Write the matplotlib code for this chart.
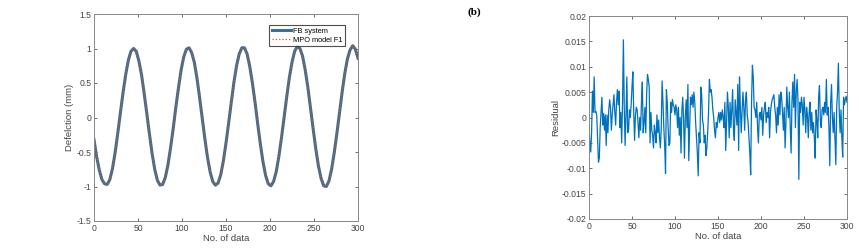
import matplotlib.pyplot as plt

plt.rcParams['font.family'] = ['Liberation Sans', 'DejaVu Sans']

# (a) deflection, sampled every 3 data points
x_defl = list(range(0, 301, 3))
fb_system = [
    -0.32, -0.57, -0.76, -0.90, -0.96, -0.97, -0.90, -0.74, -0.51, -0.23,
    0.07, 0.36, 0.62, 0.83, 0.96, 1.00, 0.96, 0.82, 0.62, 0.35,
    0.06, -0.24, -0.52, -0.75, -0.91, -0.98, -0.97, -0.87, -0.69, -0.44,
    -0.16, 0.15, 0.43, 0.69, 0.88, 0.99, 1.01, 0.94, 0.80, 0.57,
    0.29, -0.01, -0.31, -0.58, -0.79, -0.93, -0.98, -0.95, -0.83, -0.63,
    -0.37, -0.08, 0.22, 0.51, 0.75, 0.92, 1.01, 1.01, 0.92, 0.74,
    0.50, 0.22, -0.09, -0.38, -0.64, -0.84, -0.96, -0.99, -0.93, -0.79,
    -0.57, -0.30, 0.00, 0.30, 0.58, 0.80, 0.96, 1.03, 1.00, 0.89,
    0.69, 0.44, 0.14, -0.16, -0.45, -0.70, -0.88, -0.99, -1.00, -0.92,
    -0.75, -0.51, -0.23, 0.07, 0.37, 0.64, 0.85, 0.98, 1.04, 0.99,
    0.86,
]
mpo_model = [
    -0.32, -0.57, -0.76, -0.90, -0.96, -0.97, -0.90, -0.74, -0.51, -0.23,
    0.07, 0.36, 0.62, 0.83, 0.96, 1.00, 0.96, 0.82, 0.62, 0.35,
    0.06, -0.24, -0.52, -0.75, -0.91, -0.98, -0.97, -0.87, -0.69, -0.44,
    -0.16, 0.15, 0.43, 0.69, 0.88, 0.99, 1.01, 0.94, 0.80, 0.57,
    0.29, -0.01, -0.31, -0.58, -0.79, -0.93, -0.98, -0.95, -0.83, -0.63,
    -0.37, -0.08, 0.22, 0.51, 0.75, 0.92, 1.01, 1.01, 0.92, 0.74,
    0.50, 0.22, -0.09, -0.38, -0.64, -0.84, -0.96, -0.99, -0.93, -0.79,
    -0.57, -0.30, 0.00, 0.30, 0.58, 0.80, 0.96, 1.03, 1.00, 0.89,
    0.69, 0.44, 0.14, -0.16, -0.45, -0.70, -0.88, -0.99, -1.00, -0.92,
    -0.75, -0.51, -0.23, 0.07, 0.37, 0.64, 0.85, 0.98, 1.04, 0.99,
    0.86,
]

# (b) residual (x 1e-3), one value per data point
x_res = list(range(0, 301))
residual_milli = [
    -1.8, -5.0, -6.8, -3.0, 5.2, 1.0, 8.0, 1.0, 1.2, 0.5,
    -4.0, -8.8, -8.0, -2.0, 1.0, 4.0, -1.5, 0.8, -2.5, 0.5,
    -5.5, 0.5, -3.0, 1.5, 3.5, 2.0, -2.5, 0.5, 2.5, 4.5,
    1.0, -1.5, 3.0, 5.5, 2.5, 5.2, -2.0, 1.0, -5.0, 3.0,
    15.3, 2.0, -5.5, 0.5, 8.0, -3.0, -2.5, 1.5, 0.0, 2.5,
    6.0, 9.0, 1.0, -4.5, 0.5, 2.0, 1.5, -1.0, -4.0, 0.0,
    -2.5, 3.0, 7.0, -3.0, -1.0, 2.0, -3.0, 4.5, 8.5, 7.5,
    6.0, -5.0, 1.0, -2.5, -3.5, -6.0, -1.5, -3.0, -5.0, 0.5,
    -3.0, -0.5, -4.0, -6.0, -2.0, 7.2, 3.0, -2.0, -5.5, -11.0,
    5.5, 3.0, -2.0, -5.5, -5.0, 3.0, 1.0, 3.5, 2.5, 2.0,
    0.5, 2.5, 1.5, -2.0, 2.0, -3.5, 0.0, -7.0, 1.5, 4.0,
    -0.5, -8.0, 0.0, 3.5, -2.0, 6.5, -8.5, -2.0, 4.0, 2.5,
    4.5, 2.0, 5.0, 3.0, -1.0, -4.0, -7.0, -11.5, -3.0, -5.0,
    6.0, 4.5, -0.5, -1.5, -5.0, -3.5, -7.5, -6.0, -3.0, 1.0,
    7.5, 5.0, 5.5, 4.0, 1.5, 0.0, -2.5, -4.0, -1.0, -2.0,
    0.0, 1.0, -1.0, 1.0, -0.5, 1.5, 0.0, -2.0, 3.0, -6.5,
    -1.0, 5.0, 2.0, -4.0, 3.0, -2.0, 1.5, 5.5, -2.5, -4.5,
    3.5, 1.0, -1.5, 6.5, -6.5, 8.0, 2.0, -3.0, 1.0, 5.0,
    2.0, -2.5, 3.5, 5.0, 0.5, -1.0, -4.0, -7.0, -11.3, 3.0,
    10.3, 8.0, 2.0, 1.5, 0.0, 3.0, -2.0, -5.0, 0.5, 1.0,
    -0.5, 2.0, -3.5, 0.5, 2.0, 3.0, -1.0, 1.0, 0.0, 2.0,
    -4.0, 1.0, 2.5, 3.5, 4.0, 4.5, 2.0, 0.5, -3.0, 2.0,
    -1.5, 4.5, 0.5, 5.0, 4.0, 1.0, -2.5, 2.0, -6.0, -1.0,
    6.0, 2.0, 0.0, 5.0, -2.0, -7.0, 3.0, 7.0, 2.0, 8.5,
    -2.0, 5.0, 7.5, 3.5, -12.2, 3.0, 1.0, 4.0, 2.5, -1.5,
    4.0, 1.5, -3.0, 2.0, 0.5, -4.0, 1.0, 3.0, -2.5, 1.0,
    -3.0, -1.0, -4.0, -8.0, 1.5, -0.5, -4.0, 4.0, 6.3, -0.5,
    -2.0, 1.5, 2.0, 0.5, 3.0, 1.0, 7.5, 0.5, 2.0, -2.0,
    -9.5, 3.0, 6.5, 0.0, -3.0, 1.0, -4.0, -9.3, 2.0, 5.0,
    10.7, 1.0, -3.0, 1.5, -4.0, -7.8, 4.0, 2.5, 3.5, 4.2,
    3.0,
]
residual = [v / 1000 for v in residual_milli]

defl_yticks = [-1.5, -1, -0.5, 0, 0.5, 1, 1.5]
defl_yticklabels = ['-1.5', '-1', '-0.5', '0', '0.5', '1', '1.5']
res_yticks = [-0.02, -0.015, -0.01, -0.005, 0, 0.005, 0.01, 0.015, 0.02]
res_yticklabels = ['-0.02', '-0.015', '-0.01', '-0.005', '0', '0.005', '0.01', '0.015', '0.02']
xticks = [0, 50, 100, 150, 200, 250, 300]

W, H = 859, 252
fig = plt.figure(figsize=(W / 100, H / 100), dpi=100)
ax1 = fig.add_axes([94 / W, 1 - 221 / H, 264 / W, 207 / H])
ax2 = fig.add_axes([589 / W, 1 - 219 / H, 258 / W, 203 / H])

axis_col = '#555555'
fs = 6.2

ax1.plot(x_defl, fb_system, color='#3f6e94', lw=2.2, label='FB system')
ax1.plot(x_defl, mpo_model, color='#d95319', lw=0.9, ls=':', label='MPO model F1')
ax1.set_xlim(0, 300)
ax1.set_ylim(-1.5, 1.5)
ax1.set_yticks(defl_yticks)
ax1.set_yticklabels(defl_yticklabels)
ax1.set_ylabel('Defelction (mm)', fontsize=fs + 0.6, color='#444444', labelpad=2)
leg = ax1.legend(loc='upper right', fontsize=5.3, handlelength=2.6, handletextpad=0.3,
                 borderpad=0.35, labelspacing=0.25, frameon=True, fancybox=False,
                 bbox_to_anchor=(0.965, 0.965))
leg.get_frame().set_edgecolor('#222222')
leg.get_frame().set_linewidth(0.8)

ax2.plot(x_res, residual, color='#0072bd', lw=0.9)
ax2.set_xlim(0, 300)
ax2.set_ylim(-0.02, 0.02)
ax2.set_yticks(res_yticks)
ax2.set_yticklabels(res_yticklabels)
ax2.set_ylabel('Residual', fontsize=fs + 0.6, color='#444444', labelpad=1)

for ax in (ax1, ax2):
    ax.set_xticks(xticks)
    ax.set_xlabel('No. of data', fontsize=fs + 0.6, color='#444444', labelpad=1)
    ax.tick_params(direction='in', length=2.5, width=0.6, labelsize=fs,
                   colors=axis_col, labelcolor='#444444', top=True, right=True, pad=2)
    for s in ax.spines.values():
        s.set_color('#888888')
        s.set_linewidth(0.7)

fig.text(474 / W, 1 - 12 / H, '(b)', ha='center', va='center', fontsize=8,
         fontweight='bold', family=['Liberation Serif', 'DejaVu Serif'])

fig.savefig('out.png', dpi=100)
